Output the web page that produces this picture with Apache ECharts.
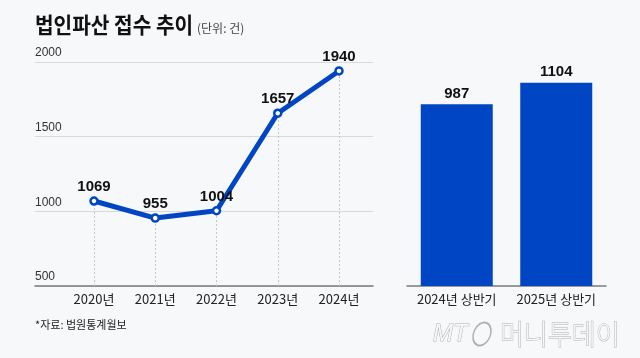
<!DOCTYPE html>
<html>
<head>
<meta charset="utf-8">
<script src="https://cdn.jsdelivr.net/npm/echarts@6/dist/echarts.min.js"></script>
<style>
html,body{margin:0;padding:0;background:#f7f8fa;}
#chart{width:640px;height:358px;}
</style>
</head>
<body>
<div id="chart"></div>
<script>
// ---- data ----
const years = ['2020년', '2021년', '2022년', '2023년', '2024년'];
const yearValues = [1069, 955, 1004, 1657, 1940];
const halfCats = ['2024년 상반기', '2025년 상반기'];
const halfValues = [987, 1104];
const yMin = 500, yMax = 2000, yStep = 500;
const barMax = 1200;

const BLUE = '#0046c4';
const SANS = "'Liberation Sans', Arial, sans-serif";
const KR = "'Noto Sans CJK KR', 'Noto Sans', sans-serif";

const chart = echarts.init(document.getElementById('chart'), null, {renderer: 'canvas'});

const dropLines = years.map((c, i) => [
  {coord: [c, yMin]},
  {coord: [c, yearValues[i]]}
]);

chart.setOption({
  backgroundColor: '#f7f8fa',
  animation: false,
  grid: [
    {left: 35, right: 267, top: 62, bottom: 72},
    {left: 94, right: 301, top: 62, bottom: 72},
    {left: 407, right: 34, top: 65, bottom: 72}
  ],
  xAxis: [
    {gridIndex: 0, type: 'category', data: years, boundaryGap: false,
     axisLine: {show: true, lineStyle: {color: '#7a7a7a', width: 1.5}},
     axisTick: {show: false}, axisLabel: {show: false}, splitLine: {show: false}},
    {gridIndex: 1, type: 'category', data: years, boundaryGap: false,
     axisLine: {show: false}, axisTick: {show: false}, splitLine: {show: false},
     axisLabel: {interval: 0, color: '#222', fontSize: 13, fontFamily: KR, margin: 7}},
    {gridIndex: 2, type: 'category', data: halfCats, boundaryGap: true,
     axisLine: {show: true, lineStyle: {color: '#7a7a7a', width: 1.5}},
     axisTick: {show: false},
     axisLabel: {interval: 0, hideOverlap: false, color: '#222', fontSize: 13, fontFamily: KR, margin: 7}}
  ],
  yAxis: [
    {gridIndex: 0, type: 'value', min: yMin, max: yMax, interval: yStep,
     axisLine: {show: false}, axisTick: {show: false},
     splitLine: {show: true, lineStyle: {color: '#d9d9d9', width: 1}},
     axisLabel: {inside: true, margin: 0, align: 'left', verticalAlign: 'bottom',
                 formatter: v => String(v),
                 padding: [0, 0, 3, 0], color: '#333', fontSize: 12, fontFamily: SANS}},
    {gridIndex: 1, type: 'value', min: yMin, max: yMax, show: false},
    {gridIndex: 2, type: 'value', min: 0, max: barMax, show: false}
  ],
  series: [
    {type: 'line', xAxisIndex: 1, yAxisIndex: 1, data: yearValues,
     lineStyle: {color: BLUE, width: 5},
     symbol: 'circle', symbolSize: 7,
     itemStyle: {color: '#ffffff', borderColor: BLUE, borderWidth: 2.5},
     label: {show: true, position: 'top', distance: 2, color: '#111',
             fontSize: 15, fontWeight: 'bold', fontFamily: SANS},
     markLine: {silent: true, symbol: 'none', label: {show: false},
                lineStyle: {color: '#c8c8c8', type: [2, 2], width: 1},
                data: dropLines},
     z: 5},
    {type: 'bar', xAxisIndex: 2, yAxisIndex: 2, data: halfValues, barWidth: 72,
     itemStyle: {color: BLUE},
     label: {show: true, position: 'top', distance: 3, color: '#111',
             fontSize: 15, fontWeight: 'bold', fontFamily: SANS}}
  ],
  graphic: [
    {type: 'text', x: 35, y: 25, scaleX: 0.92,
     style: {text: '법인파산 접수 추이', x: 0, y: 0, fill: '#111',
             font: "bold 22px 'Noto Sans CJK KR', sans-serif", verticalAlign: 'middle'}},
    {type: 'text', x: 197, y: 28,
     style: {text: '(단위: 건)', x: 0, y: 0, fill: '#444',
             font: "12px 'Noto Sans CJK KR', sans-serif", verticalAlign: 'middle'}},
    {type: 'text', x: 35, y: 325,
     style: {text: '*자료: 법원통계월보', x: 0, y: 0, fill: '#222',
             font: "11px 'Noto Sans CJK KR', sans-serif", verticalAlign: 'middle'}},
    {type: 'text', x: 433, y: 334,
     style: {text: 'MT', x: 0, y: 0, fill: '#f7f8fa', stroke: '#b0b0b0', lineWidth: 1,
             font: "italic 24px 'Liberation Sans', sans-serif", verticalAlign: 'middle'}},
    {type: 'circle', x: 482, y: 334, scaleX: 0.7, rotation: -0.4,
     shape: {cx: 0, cy: 0, r: 12},
     style: {fill: 'none', stroke: '#b0b0b0', lineWidth: 2}},
    {type: 'text', x: 500, y: 334, scaleX: 0.93,
     style: {text: '머니투데이', x: 0, y: 0, fill: '#f7f8fa', stroke: '#b0b0b0', lineWidth: 1,
             font: "300 28px 'Noto Sans CJK KR', sans-serif", verticalAlign: 'middle'}}
  ]
});
</script>
</body>
</html>
